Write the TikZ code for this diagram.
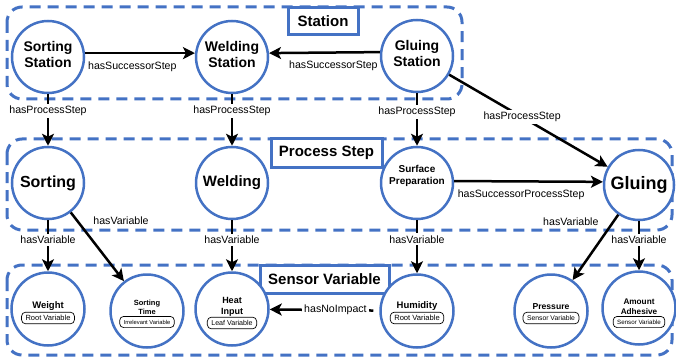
\documentclass[tikz,border=0pt]{standalone}
\usepackage{fontspec}
\setmainfont{Liberation Sans}
\usetikzlibrary{arrows.meta}
\definecolor{grpblue}{RGB}{68,114,196}
\begin{document}
\begin{tikzpicture}[x=1pt,y=-1pt,
  circ/.style={circle,draw=grpblue,line width=2.5pt,minimum size=72pt,inner sep=0pt,align=center,fill=white},
  ctext/.style={align=center,inner sep=0pt},
  grp/.style={draw=grpblue,line width=3pt,dash pattern=on 11pt off 7pt,rounded corners=15pt},
  tag/.style={draw=grpblue,line width=3pt,fill=white,font=\bfseries\fontsize{15}{17}\selectfont,inner sep=0pt},
  rel/.style={line width=2.5pt,-{Stealth[length=12pt,width=12pt,inset=3pt]}},
  lab/.style={font=\fontsize{10.6}{12}\selectfont,fill=white,inner sep=2pt},
  nolab/.style={font=\fontsize{10.6}{12}\selectfont,inner sep=2pt},
  pill/.style={draw,line width=0.7pt,rounded corners=4pt,inner xsep=4pt,inner ysep=1.2pt,text height=0.72em,text depth=0.2em}
]
\useasboundingbox (0,0) rectangle (676,358);

% groups
\draw[grp] (7,7) rectangle (462,99);
\draw[grp] (7,139) rectangle (672,230);
\draw[grp] (7,265) rectangle (672,355);

% group tags
\node[tag,minimum width=70pt,minimum height=27pt] (tS) at (323,21.5) {Station};
\node[tag,minimum width=111pt,minimum height=28pt] (tP) at (326.5,153) {Process Step};
\node[tag,minimum width=129pt,minimum height=28pt] (tV) at (324.5,279) {Sensor Variable};

% stations
\node[circ,label={[ctext,font=\bfseries\fontsize{14}{16}\selectfont,yshift=3pt]center:Sorting\\Station}] (SS) at (48,57) {};
\node[circ,label={[ctext,font=\bfseries\fontsize{14}{16}\selectfont,yshift=3pt]center:Welding\\Station}] (WS) at (232,57) {};
\node[circ,label={[ctext,font=\bfseries\fontsize{14}{16}\selectfont,yshift=3pt]center:Gluing\\Station}] (GS) at (417,56) {};

% process steps
\node[circ,font=\bfseries\fontsize{16}{18}\selectfont] (PS) at (48,183) {Sorting};
\node[circ,font=\bfseries\fontsize{15}{17}\selectfont] (PW) at (232,183) {Welding};
\node[circ,label={[ctext,font=\bfseries\fontsize{10}{12}\selectfont,yshift=7pt]center:Surface\\Preparation}] (PSP) at (417,183) {};
\node[circ,minimum size=70pt,font=\bfseries\fontsize{18}{20}\selectfont] (PG) at (639,185) {Gluing};

% sensor variables
\node[circ,minimum size=73pt,
  label={[ctext,font=\bfseries\fontsize{9.5}{11}\selectfont,yshift=3pt]center:Weight},
  label={[pill,font=\fontsize{7.5}{8}\selectfont,yshift=-9pt]center:Root Variable}] (VW) at (48,309) {};
\node[circ,minimum size=73pt,
  label={[ctext,font=\bfseries\fontsize{7.5}{9}\selectfont,yshift=3.5pt]center:Sorting\\Time},
  label={[pill,font=\fontsize{5.8}{6}\selectfont,inner ysep=1pt,yshift=-11pt]center:Irrelevant Variable}] (VST) at (147,311) {};
\node[circ,minimum size=73pt,
  label={[ctext,font=\bfseries\fontsize{9}{11}\selectfont,yshift=2.5pt]center:Heat\\Input},
  label={[pill,font=\fontsize{7.1}{8}\selectfont,yshift=-14pt]center:Leaf Variable}] (VH) at (232,309) {};
\node[circ,minimum size=73pt,
  label={[ctext,font=\bfseries\fontsize{9.5}{11}\selectfont,yshift=5pt]center:Humidity},
  label={[pill,font=\fontsize{7.6}{8}\selectfont,yshift=-7pt]center:Root Variable}] (VHu) at (417,311) {};
\node[circ,minimum size=73pt,
  label={[ctext,font=\bfseries\fontsize{8.6}{10}\selectfont,yshift=4pt]center:Pressure},
  label={[pill,font=\fontsize{6.8}{7}\selectfont,yshift=-7pt]center:Sensor Variable}] (VP) at (551,311) {};
\node[circ,minimum size=73pt,
  label={[ctext,font=\bfseries\fontsize{8.2}{10}\selectfont,yshift=1pt]center:Amount\\Adhesive},
  label={[pill,font=\fontsize{6.2}{7}\selectfont,inner ysep=1pt,yshift=-14pt]center:Sensor Variable}] (VA) at (639,308) {};

% station relations
\draw[rel] (SS.6) -- node[nolab,below=5pt,pos=0.43]{hasSuccessorStep} (WS.174);
\draw[rel] (GS.174) -- node[nolab,below=5pt,pos=0.42]{hasSuccessorStep} (WS.6);

% station -> process
\draw[rel] (SS) -- node[lab,pos=0.33]{hasProcessStep} (PS);
\draw[rel] (WS) -- node[lab,pos=0.33]{hasProcessStep} (PW);
\draw[rel] (GS) -- node[lab,pos=0.35]{hasProcessStep} (PSP);
\draw[rel] (GS) -- node[lab,pos=0.46]{hasProcessStep} (PG);

% process relations
\draw[rel] (PSP.3) -- node[nolab,below=5pt,pos=0.45]{hasSuccessorProcessStep} (PG.175);

% process -> variables
\draw[rel] (PS) -- node[lab,pos=0.38]{hasVariable} (VW);
\draw[rel] (PS) -- node[nolab,pos=0.12,anchor=west,xshift=13pt]{hasVariable} (VST);
\draw[rel] (PW) -- node[lab,pos=0.38]{hasVariable} (VH);
\draw[rel] (PSP) -- node[lab,pos=0.36]{hasVariable} (VHu);
\draw[rel] (PG) -- node[nolab,pos=0.1,anchor=east,xshift=-12pt]{hasVariable} (VP);
\draw[rel] (PG) -- node[lab,pos=0.38]{hasVariable} (VA);

% variable relation
\draw[rel,shorten <=6pt] (VHu) -- node[lab,pos=0.4]{hasNoImpact} (VH);
\end{tikzpicture}
\end{document}
